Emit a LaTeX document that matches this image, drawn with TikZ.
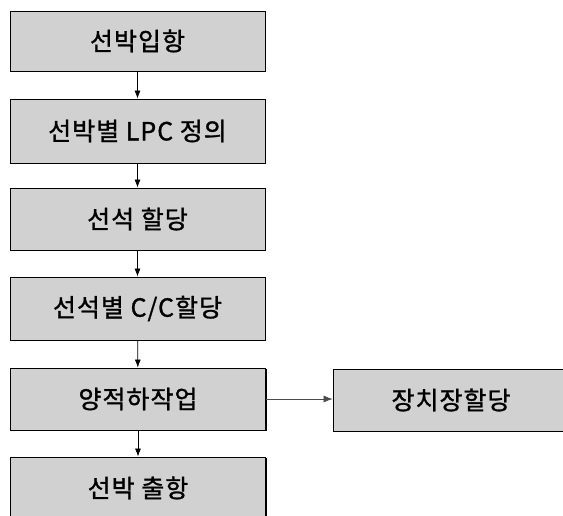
\documentclass[tikz,border=0pt]{standalone}
\usepackage{fontspec}
\newfontfamily\kr[FakeBold=1.2,LetterSpace=4]{Noto Sans CJK KR}
\usetikzlibrary{arrows.meta,shadows}
\begin{document}
\begin{tikzpicture}[x=1pt,y=-1pt,
  procbox/.style={draw=black, line width=0.9pt, fill=black!18, minimum width=255pt,
    inner sep=0pt, font=\kr\fontsize{25}{29}\selectfont,
    general shadow={shadow xshift=1.2pt, shadow yshift=-1.2pt, fill=black}},
  flow/.style={line width=0.7pt, -{Latex[length=8pt,width=6pt]}},
  side/.style={line width=0.6pt, draw=black!70, -{Latex[length=9pt,width=7pt]}}]
\clip (0,0) rectangle (563,515);
\useasboundingbox (0,0) rectangle (563,515);
\node[procbox, minimum height=60pt] (b1) at (137.5,41) {선박입항};
\node[procbox, minimum height=64pt] (b2) at (137.5,131) {선박별 LPC 정의};
\node[procbox, minimum height=62pt] (b3) at (137.5,219) {선석 할당};
\node[procbox, minimum height=63pt] (b4) at (137.5,308.5) {선석별 C/C할당};
\node[procbox, minimum height=62pt] (b5) at (138,399) {양적하작업};
\node[procbox, minimum height=62pt] (b6) at (138,488) {선박 출항};
\node[procbox, minimum height=62pt, minimum width=236pt] (r) at (451,400) {장치장할당};
\draw[flow] (b1) -- (b2);
\draw[flow] (b2) -- (b3);
\draw[flow] (b3) -- (b4);
\draw[flow] (b4) -- (b5);
\draw[flow] (b5) -- (b6);
\draw[side] (b5.east) -- (b5.east -| r.west);
\end{tikzpicture}
\end{document}
